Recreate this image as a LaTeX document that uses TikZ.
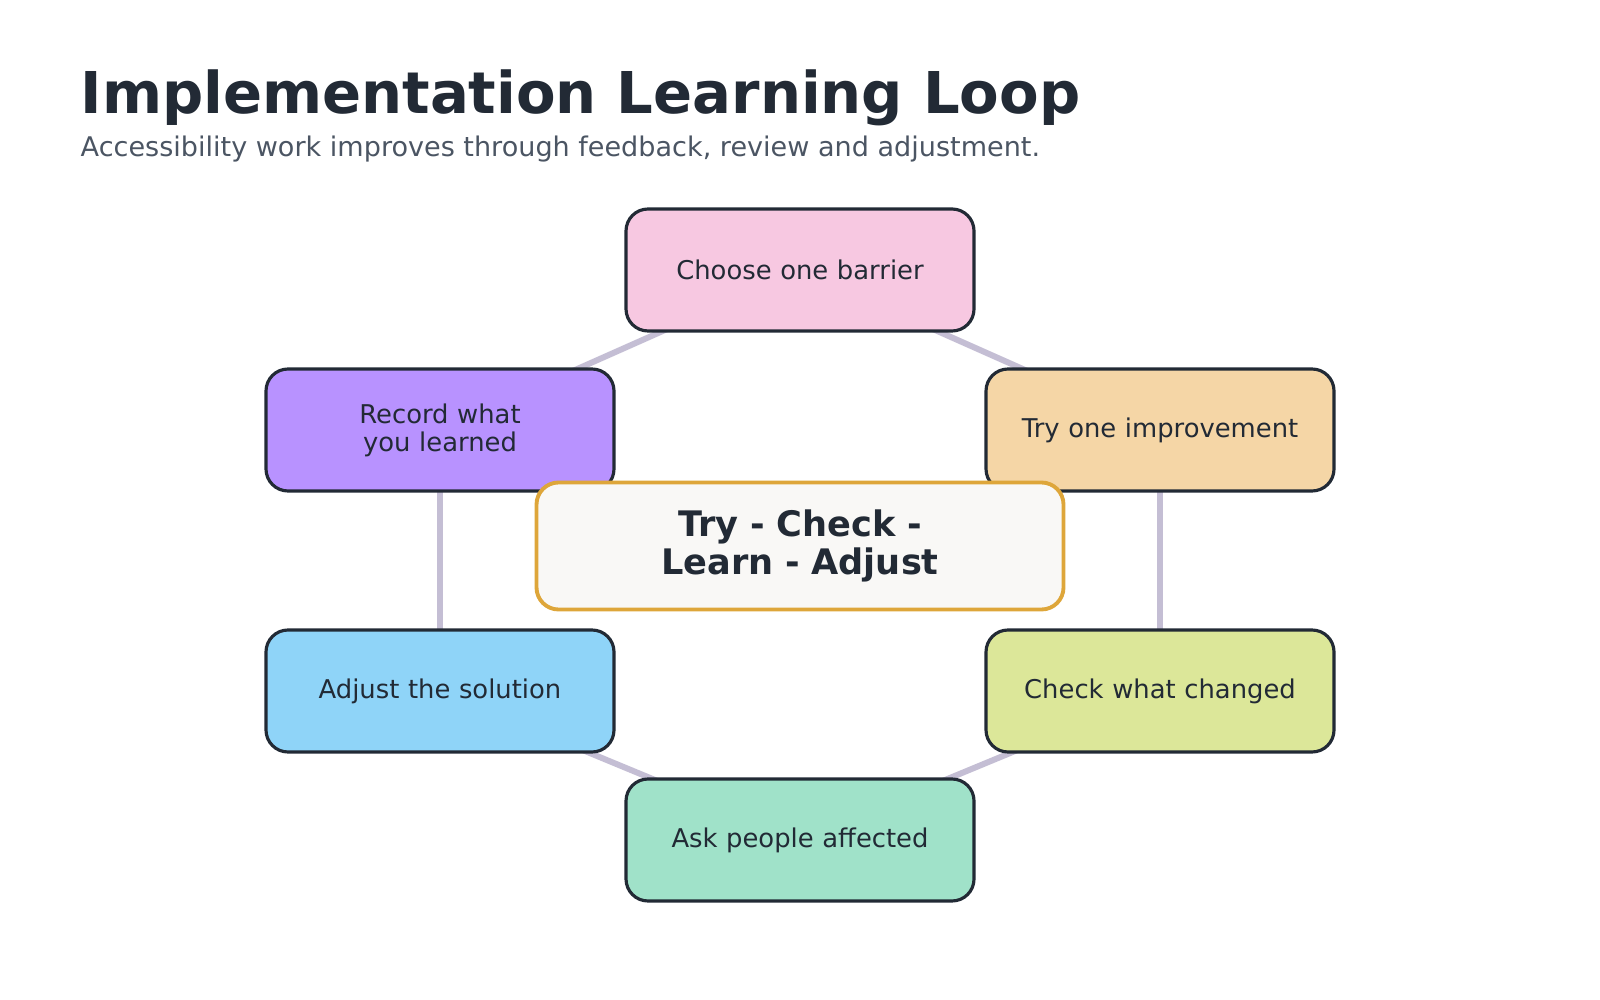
\documentclass[tikz,border=0pt]{standalone}
\usepackage{fontspec}
\setmainfont{DejaVu Sans}
\usetikzlibrary{backgrounds}
\definecolor{ink}{HTML}{222A35}
\definecolor{subink}{HTML}{4B5563}
\definecolor{linkgray}{HTML}{C4BED4}
\tikzset{
  stepbox/.style={draw=ink, line width=0.9pt, rounded corners=0.22cm, minimum width=3.48cm,
    minimum height=1.22cm, text width=3.2cm, align=center, text=ink, font=\fontsize{7.35}{8}\selectfont},
  link/.style={draw=linkgray, line width=1.7pt}
}
\begin{document}
\begin{tikzpicture}
  \useasboundingbox (0,0) rectangle (16,-10);
  \node[anchor=base west, text=ink, font=\bfseries\fontsize{16.4}{20}\selectfont, inner sep=0] (title) at (0.80,-1.14) {Implementation Learning Loop};
  \node[anchor=base west, text=subink, font=\fontsize{7.7}{9}\selectfont, inner sep=0] (sub) at (0.80,-1.57) {Accessibility work improves through feedback, review and adjustment.};

  \node[stepbox, fill={rgb,255:red,247;green,200;blue,225}] (choose) at (8.00,-2.70) {Choose one barrier};
  \node[stepbox, fill={rgb,255:red,245;green,214;blue,166}] (try) at (11.60,-4.30) {Try one improvement};
  \node[stepbox, fill={rgb,255:red,220;green,231;blue,153}] (check) at (11.60,-6.91) {Check what changed};
  \node[stepbox, fill={rgb,255:red,160;green,226;blue,201}] (ask) at (8.00,-8.40) {Ask people affected};
  \node[stepbox, fill={rgb,255:red,143;green,212;blue,248}] (adjust) at (4.40,-6.91) {Adjust the solution};
  \node[stepbox, fill={rgb,255:red,184;green,146;blue,255}] (record) at (4.40,-4.30) {Record what you learned};

  \node[draw={rgb,255:red,222;green,166;blue,58}, line width=1.1pt, rounded corners=0.22cm,
    fill={rgb,255:red,249;green,248;blue,246}, minimum width=5.27cm, minimum height=1.27cm,
    text width=4.7cm, align=center, text=ink, font=\bfseries\fontsize{10}{11}\selectfont] (core) at (8.00,-5.46) {Try - Check - Learn - Adjust};

  \begin{pgfonlayer}{background}
    \foreach \a/\b in {choose/try, try/check, check/ask, ask/adjust, adjust/record, record/choose}
      \draw[link] (\a.center) -- (\b.center);
  \end{pgfonlayer}
\end{tikzpicture}
\end{document}
